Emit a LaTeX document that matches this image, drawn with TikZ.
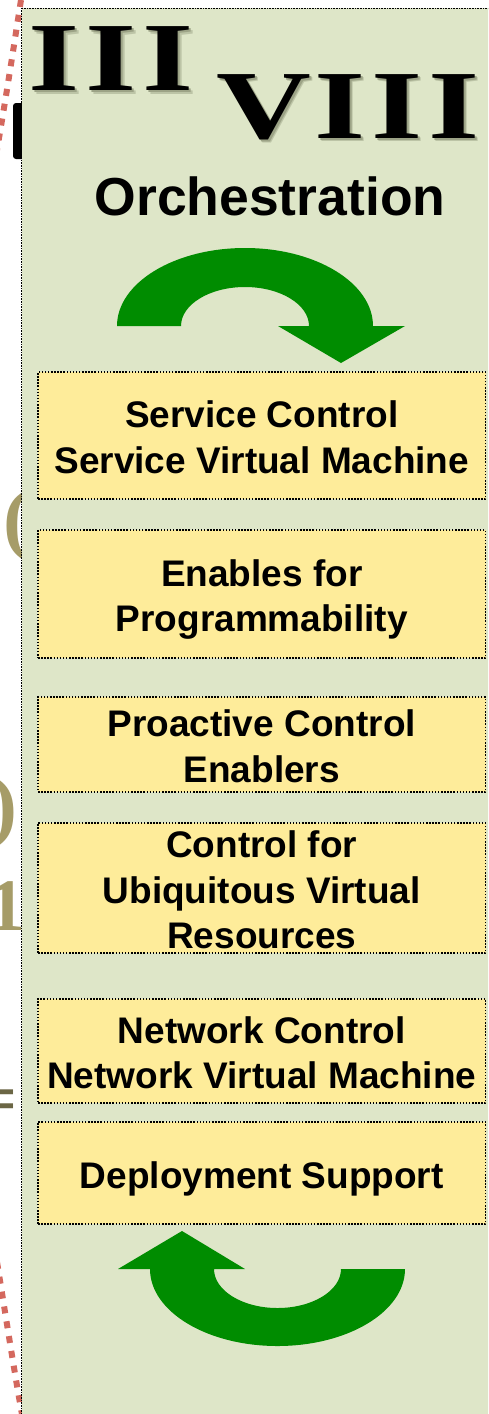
\documentclass[tikz,border=0pt]{standalone}
\usepackage{fontspec}
\newfontfamily\hv{Liberation Sans}
\newfontfamily\tms{Liberation Serif}
\definecolor{panelbg}{HTML}{DEE6C8}
\definecolor{boxfill}{HTML}{FEEC9A}
\definecolor{arrowgreen}{HTML}{008C00}
\definecolor{reddash}{HTML}{D4685E}
\definecolor{olive}{HTML}{A69C68}
\definecolor{darkolive}{HTML}{6B6645}
\definecolor{numshadow}{HTML}{9CA386}
\newcommand\bxl[1]{\rule{0pt}{30pt}\smash{#1}}
\begin{document}
\begin{tikzpicture}[x=1pt,y=-1pt,
  box/.style={draw=black, line width=1.5pt, dash pattern=on 1.5pt off 1.6pt,
    fill=boxfill, minimum width=447.5pt, inner sep=0pt, align=center,
    font=\hv\bfseries\fontsize{37}{45.5}\selectfont},
  numeral/.style={anchor=base west, inner sep=0pt, xscale=1.345,
    font=\tms\bfseries\fontsize{97.6}{100}\selectfont},
  oddglyph/.style={anchor=base west, inner sep=0pt, text=olive,
    font=\tms\bfseries\fontsize{80}{90}\selectfont},
  bigarrow/.style={fill=arrowgreen},
  reddots/.style={draw=reddash, line width=6pt, dash pattern=on 7pt off 8pt},
  panelborder/.style={draw=black, line width=0.8pt, dash pattern=on 0.8pt off 0.8pt}
]
\useasboundingbox (0,0) rectangle (488,1414);
\clip (0,0) rectangle (488,1414);
\fill[white] (0,0) rectangle (488,1414);

% background decorations (behind the panel)
\draw[reddots] (21,0) .. controls (14,45) and (8,85) .. (-3,150);
\draw[reddots] (-3,1262) .. controls (8,1330) and (14,1370) .. (23,1420);
\node[oddglyph] (lp) at (3.0,545.9) {(};
\node[oddglyph, font=\tms\bfseries\fontsize{81}{90}\selectfont] (rp) at (-9.5,832.8) {)};
\node[oddglyph, font=\tms\bfseries\fontsize{74}{90}\selectfont] (one) at (-12,930) {1};
\node[oddglyph, text=darkolive, font=\tms\bfseries\fontsize{70}{80}\selectfont] (eq) at (-23,1122) {=};
\fill[black, rounded corners=3pt] (13,103) rectangle (28,159);

% panel
\fill[panelbg] (21.5,8) rectangle (500,1420);
\draw[panelborder] (21.5,1420) -- (21.5,8) -- (500,8);

% roman numerals with soft shadow
\node[numeral, text=numshadow, opacity=0.5] (IIIs2) at (31.9,94.2) {I\kern4.5pt I\kern4.5pt I};
\node[numeral, text=numshadow] (IIIs) at (30.4,92.7) {I\kern4.5pt I\kern4.5pt I};
\node[numeral] (III) at (28.4,90.7) {I\kern4.5pt I\kern4.5pt I};
\node[numeral, text=numshadow, opacity=0.5] (VIIIs2) at (219.4,141.5) {V\kern2.5pt I\kern4.5pt I\kern4.5pt I};
\node[numeral, text=numshadow] (VIIIs) at (217.9,140) {V\kern2.5pt I\kern4.5pt I\kern4.5pt I};
\node[numeral] (VIII) at (215.9,138) {V\kern2.5pt I\kern4.5pt I\kern4.5pt I};

\node[anchor=base, inner sep=0pt, font=\hv\bfseries\fontsize{53.5}{60}\selectfont] (orch) at (270,215) {Orchestration};

% upper arrow
\fill[bigarrow] (117,326) arc[start angle=180, end angle=360, x radius=128, y radius=78]
  -- (405,326) -- (341,363) -- (278,326) -- (309,326)
  arc[start angle=0, end angle=-180, x radius=64, y radius=39] -- cycle;

% boxes
\node[box, minimum height=127pt] (b1) at (261.75,435.5) {\bxl{Service Control}\\\bxl{Service Virtual Machine}};
\node[box, minimum height=128pt] (b2) at (261.75,594) {\bxl{Enables for}\\\bxl{Programmability}};
\node[box, minimum height=95pt] (b3) at (261.75,744.5) {\bxl{Proactive Control}\\\bxl{Enablers}};
\node[box, minimum height=130pt] (b4) at (261.75,888) {\bxl{Control for}\\\bxl{Ubiquitous Virtual}\\\bxl{Resources}};
\node[box, minimum height=104pt] (b5) at (261.75,1051) {\bxl{Network Control}\\\bxl{Network Virtual Machine}};
\node[box, minimum height=102pt] (b6) at (261.75,1173) {\bxl{Deployment Support}};

% lower arrow
\fill[bigarrow] (405,1269) arc[start angle=0, end angle=180, x radius=127.5, y radius=77]
  -- (118,1269) -- (182,1231) -- (245,1269) -- (214,1269)
  arc[start angle=180, end angle=0, x radius=63.5, y radius=39] -- cycle;
\end{tikzpicture}
\end{document}
